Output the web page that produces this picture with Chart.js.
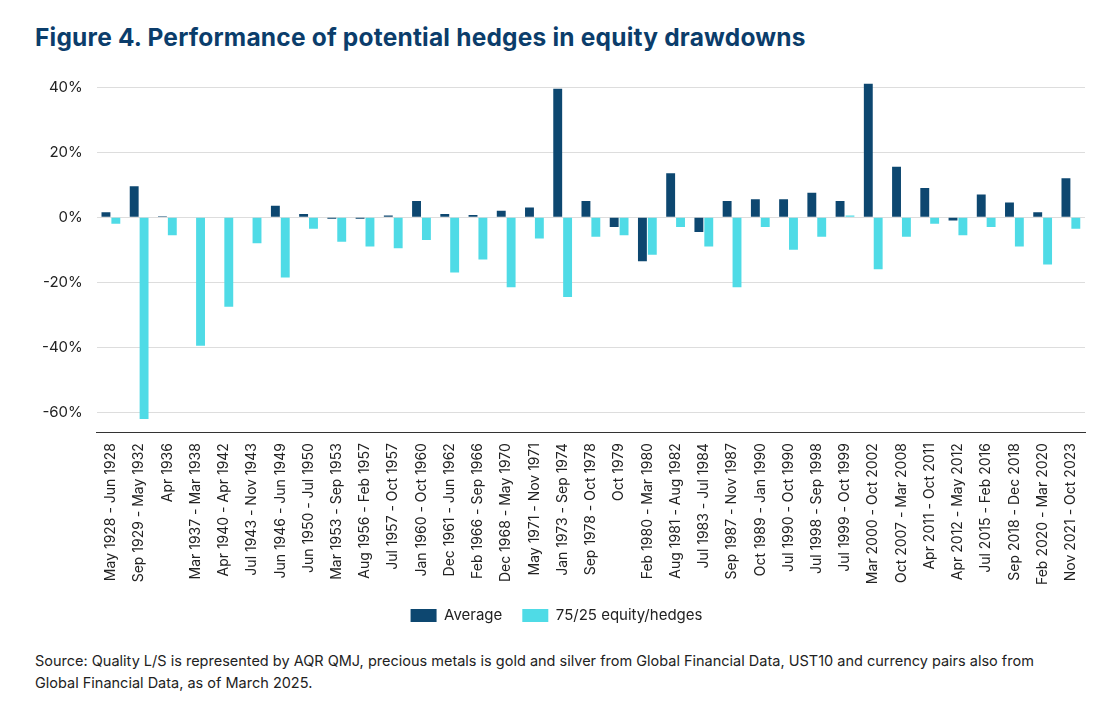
<!DOCTYPE html>
<html><head><meta charset="utf-8">
<script src="https://cdn.jsdelivr.net/npm/chart.js@4"></script>
<style>
body{margin:0;background:#fff;font-family:Inter,"Noto Sans",sans-serif;}
#t{position:absolute;left:35px;top:22px;font-size:24.5px;font-weight:700;color:#0b3d6b;letter-spacing:0.2px;}
#w{position:absolute;left:28px;top:51px;width:1067px;height:582px;}
#s{position:absolute;left:35px;top:650px;font-size:14.5px;line-height:22px;color:#222;width:1040px;}
</style></head><body>
<div id="t">Figure 4. Performance of potential hedges in equity drawdowns</div>
<div id="w"><canvas id="c"></canvas></div>
<div id="s">Source: Quality L/S is represented by AQR QMJ, precious metals is gold and silver from Global Financial Data, UST10 and currency pairs also from Global Financial Data, as of March 2025.</div>
<script>
const categories=["May 1928 - Jun 1928","Sep 1929 - May 1932","Apr 1936","Mar 1937 - Mar 1938","Apr 1940 - Apr 1942","Jul 1943 - Nov 1943","Jun 1946 - Jun 1949","Jun 1950 - Jul 1950","Mar 1953 - Sep 1953","Aug 1956 - Feb 1957","Jul 1957 - Oct 1957","Jan 1960 - Oct 1960","Dec 1961 - Jun 1962","Feb 1966 - Sep 1966","Dec 1968 - May 1970","May 1971 - Nov 1971","Jan 1973 - Sep 1974","Sep 1978 - Oct 1978","Oct 1979","Feb 1980 - Mar 1980","Aug 1981 - Aug 1982","Jul 1983 - Jul 1984","Sep 1987 - Nov 1987","Oct 1989 - Jan 1990","Jul 1990 - Oct 1990","Jul 1998 - Sep 1998","Jul 1999 - Oct 1999","Mar 2000 - Oct 2002","Oct 2007 - Mar 2008","Apr 2011 - Oct 2011","Apr 2012 - May 2012","Jul 2015 - Feb 2016","Sep 2018 - Dec 2018","Feb 2020 - Mar 2020","Nov 2021 - Oct 2023"];
const average=[1.5,9.5,0.3,0,0,0,3.5,1,-0.5,-0.5,0.5,5,1,0.7,2,3,39.5,5,-3,-13.5,13.5,-4.5,5,5.5,5.5,7.5,5,41,15.5,9,-1,7,4.5,1.5,12];
const hedges=[-2,-62,-5.5,-39.5,-27.5,-8,-18.5,-3.5,-7.5,-9,-9.5,-7,-17,-13,-21.5,-6.5,-24.5,-6,-5.5,-11.5,-3,-9,-21.5,-3,-10,-6,0.5,-16,-6,-2,-5.5,-3,-9,-14.5,-3.5];
const yTicks=[-60,-40,-20,0,20,40];
new Chart(document.getElementById('c'),{type:'bar',
data:{labels:categories,datasets:[
{label:'Average',data:average,backgroundColor:'#0d4770',categoryPercentage:0.7,barPercentage:0.9},
{label:'75/25 equity/hedges',data:hedges,backgroundColor:'#4fdbe6',categoryPercentage:0.7,barPercentage:0.9}]},
options:{responsive:true,maintainAspectRatio:false,animation:false,
layout:{padding:{top:0,right:10}},
plugins:{legend:{position:'bottom',labels:{boxWidth:26,boxHeight:13,padding:20,color:'#222',font:{size:15,family:'Inter'}}},tooltip:{enabled:false}},
scales:{
x:{grid:{display:false},border:{color:'#333'},ticks:{autoSkip:false,maxRotation:90,minRotation:90,color:'#222',font:{size:14,family:'Inter'}}},
y:{min:-66,max:44,afterBuildTicks:a=>{a.ticks=yTicks.map(v=>({value:v}));},
grid:{color:'#dddddd',drawTicks:false},border:{display:false},
ticks:{padding:14,color:'#222',font:{size:15,family:'Inter'},callback:v=>v+'%'}}}}});
</script></body></html>
